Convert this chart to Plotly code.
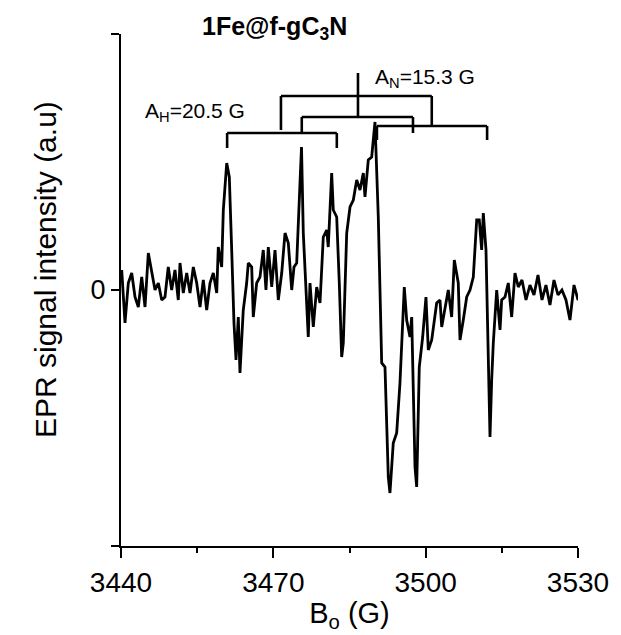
import plotly.graph_objects as go

# Magnetic field (G) and EPR signal intensity (a.u.)
field = [
    3440.14, 3440.79, 3441.44, 3442.11, 3442.76, 3443.41, 3444.08, 3444.73, 3445.38, 3446.05,
    3446.70, 3447.35, 3448.02, 3448.66, 3449.31, 3449.98, 3450.63, 3451.28, 3451.62, 3452.27,
    3452.94, 3453.59, 3454.24, 3454.91, 3455.56, 3456.21, 3456.88, 3457.53, 3458.18, 3458.85,
    3459.16, 3459.83, 3460.15, 3460.82, 3461.33, 3461.80, 3462.25, 3462.65, 3463.10, 3463.43,
    3463.77, 3464.08, 3464.75, 3465.07, 3465.74, 3466.05, 3466.72, 3467.37, 3468.02, 3468.55,
    3469.01, 3469.68, 3470.33, 3470.98, 3471.65, 3472.30, 3472.95, 3473.62, 3474.07, 3474.60,
    3475.25, 3475.55, 3475.90, 3476.57, 3476.88, 3477.22, 3477.87, 3478.54, 3479.19, 3479.84,
    3480.51, 3480.82, 3481.49, 3481.81, 3482.48, 3482.99, 3483.46, 3483.78, 3484.45, 3485.10,
    3485.75, 3486.42, 3487.07, 3487.72, 3488.05, 3488.70, 3489.37, 3490.02, 3490.67, 3491.34,
    3491.99, 3492.64, 3492.97, 3493.62, 3494.29, 3494.94, 3495.79, 3496.26, 3496.91, 3497.25,
    3497.56, 3497.90, 3498.23, 3498.74, 3499.41, 3500.06, 3500.52, 3501.19, 3502.17, 3502.82,
    3503.16, 3503.81, 3504.45, 3505.12, 3505.64, 3506.42, 3506.76, 3507.41, 3508.08, 3508.73,
    3509.38, 3510.05, 3510.56, 3511.03, 3511.35, 3511.88, 3512.33, 3512.67, 3513.00, 3513.32,
    3513.99, 3514.64, 3514.97, 3515.62, 3516.27, 3516.94, 3517.59, 3518.24, 3518.97, 3519.76,
    3520.54, 3521.33, 3522.12, 3522.91, 3523.69, 3524.48, 3525.27, 3526.06, 3526.84, 3527.63,
    3528.42, 3529.21, 3530.00, 3530.78,
]
intensity = [
    20, -33, 7, 17, -7, -17, 13, -17, 37, 20,
    0, 7, -10, -7, 23, 0, 20, -10, 27, -3,
    17, -3, 23, 7, -17, 10, -20, 7, 17, -3,
    43, 23, 80, 127, 113, 40, -33, -70, -27, -83,
    -47, -20, 7, 27, 23, -27, 7, 13, 40, 0,
    43, 3, 40, -10, 17, 57, 47, 0, 23, 27,
    107, 143, 57, -10, -47, 7, -37, 3, -13, 53,
    60, 43, 117, 80, 73, 7, -67, -53, 57, 83,
    90, 110, 100, 117, 93, 130, 133, 168, 73, -73,
    -77, -187, -203, -153, -143, -93, 3, -30, -47, -27,
    -93, -177, -197, -77, -47, -7, -60, -50, -13, -10,
    -37, -17, 0, -27, 30, 7, -50, -30, -7, 0,
    13, 70, 70, 40, 77, 40, -90, -147, -90, -53,
    0, -40, -10, -7, 7, -27, 17, 3, 10, -10,
    5, -5, 15, -10, 5, -15, 10, -5, 0, -10,
    -30, 5, -10, 0,
]

x_ticks = [3440, 3470, 3500, 3530]
y_ticks = [-256, 0, 256]
y_tick_text = ["", "0", ""]

# Hyperfine splitting stick diagram: (x0, y0, x1, y1) in data units
brackets = [
    (3486.67, 217, 3486.67, 173),   # central stem
    (3471.5, 194, 3501.2, 194),     # A_N splitting
    (3471.5, 194, 3471.5, 160),
    (3501.2, 194, 3501.2, 165),
    (3475.6, 173, 3497.5, 173),     # inner
    (3475.6, 173, 3475.6, 157),
    (3497.5, 173, 3497.5, 157),
    (3460.9, 157, 3482.5, 157),     # A_H left
    (3460.9, 157, 3460.9, 142),
    (3482.5, 157, 3482.5, 142),
    (3490.4, 164, 3512.1, 164),     # A_H right
    (3490.4, 164, 3490.4, 150),
    (3512.1, 164, 3512.1, 150),
]

FONT = "Arial, Liberation Sans, sans-serif"

fig = go.Figure()
fig.add_trace(go.Scatter(x=field, y=intensity, mode="lines",
                         line=dict(color="black", width=2.8), showlegend=False))

for x0, y0, x1, y1 in brackets:
    fig.add_shape(type="line", x0=x0, y0=y0, x1=x1, y1=y1, xref="x", yref="y",
                  line=dict(color="black", width=2.6))

fig.add_annotation(x=3489.6, y=212, xref="x", yref="y", text="A<sub>N</sub>=15.3 G",
                   showarrow=False, xanchor="left", yanchor="middle",
                   font=dict(family=FONT, size=21, color="black"))
fig.add_annotation(x=3444.3, y=178, xref="x", yref="y", text="A<sub>H</sub>=20.5 G",
                   showarrow=False, xanchor="left", yanchor="middle",
                   font=dict(family=FONT, size=21, color="black"))
fig.add_annotation(x=(274 - 121) / 457, y=(546 - 28) / 512, xref="paper", yref="paper",
                   text="<b>1Fe@f-gC<sub>3</sub>N</b>", showarrow=False,
                   xanchor="center", yanchor="middle",
                   font=dict(family=FONT, size=25, color="black"))
fig.add_annotation(x=(45 - 121) / 457, y=(546 - 270) / 512, xref="paper", yref="paper",
                   text="EPR signal intensity (a.u)", textangle=-90, showarrow=False,
                   xanchor="center", yanchor="middle",
                   font=dict(family=FONT, size=30, color="black"))

fig.update_layout(
    width=621, height=635,
    margin=dict(l=121, r=43, t=34, b=89),
    paper_bgcolor="white", plot_bgcolor="white",
    font=dict(family=FONT, color="black"),
    xaxis=dict(range=[3440, 3530], tickvals=x_ticks, showgrid=False, zeroline=False,
               showline=True, linecolor="black", linewidth=2,
               ticks="outside", ticklen=10, tickwidth=2, tickcolor="black",
               minor=dict(dtick=30, tick0=3455, ticks="outside", ticklen=5, tickwidth=2,
                          tickcolor="black", showgrid=False),
               tickfont=dict(family=FONT, size=28, color="black"),
               title=dict(text="B<sub>o</sub> (G)", font=dict(family=FONT, size=29, color="black"),
                          standoff=6)),
    yaxis=dict(range=[-256, 256], tickvals=y_ticks, ticktext=y_tick_text,
               showgrid=False, zeroline=False,
               showline=True, linecolor="black", linewidth=2,
               ticks="outside", ticklen=8, tickwidth=2, tickcolor="black",
               tickfont=dict(family=FONT, size=27, color="black")),
)

fig.write_html("out.html")
